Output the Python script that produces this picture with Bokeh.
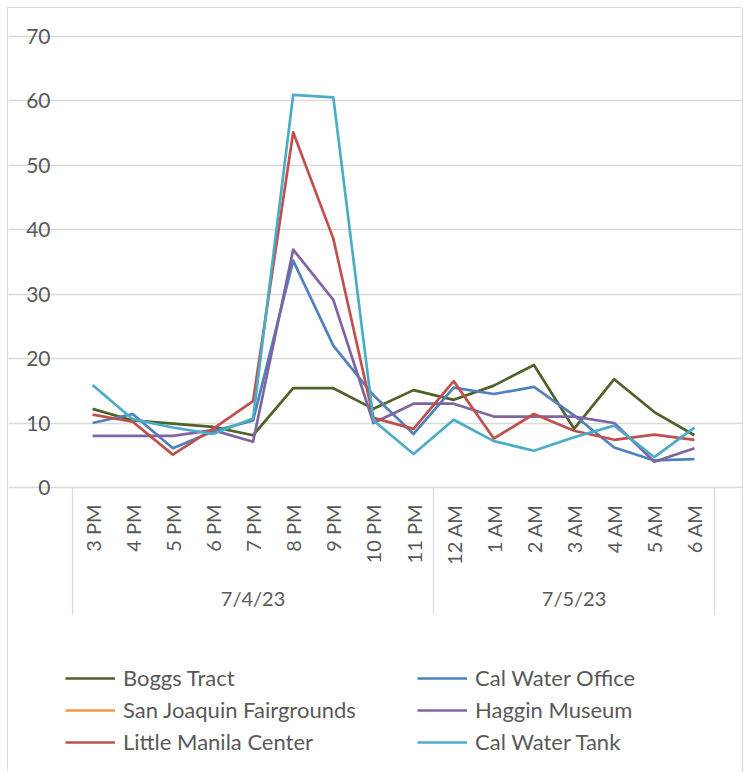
import numpy as np
from bokeh.plotting import figure
from bokeh.models import (Range1d, LinearAxis, FixedTicker, Legend, LegendItem, Grid)
from bokeh.embed import file_html
from bokeh.resources import INLINE

# ---------------- data ----------------
hours = ["3 PM", "4 PM", "5 PM", "6 PM", "7 PM", "8 PM", "9 PM", "10 PM", "11 PM",
         "12 AM", "1 AM", "2 AM", "3 AM", "4 AM", "5 AM", "6 AM"]
dates = ["7/4/23", "7/5/23"]
date_counts = [9, 7]
y_ticks = [0, 10, 20, 30, 40, 50, 60, 70]

boggs_tract = [12.2, 10.4, 9.9, 9.4, 8.1, 15.4, 15.4, 12.2, 15.1, 13.6, 15.8, 19.0, 9.1, 16.8, 11.7, 8.1]
cal_water_office = [10.0, 11.4, 6.1, 8.7, 10.4, 35.2, 22.0, 14.3, 8.3, 15.5, 14.5, 15.6, 11.2, 6.2, 4.2, 4.4]
sj_fairgrounds = [np.nan] * 16
haggin_museum = [8.0, 8.0, 8.0, 8.9, 7.1, 36.9, 29.1, 10.0, 13.0, 13.0, 11.0, 11.0, 11.0, 10.0, 4.0, 6.1]
little_manila = [11.3, 10.2, 5.1, 9.1, 13.4, 55.1, 38.6, 10.8, 9.1, 16.5, 7.6, 11.4, 8.8, 7.4, 8.2, 7.4]
cal_water_tank = [15.9, 10.6, 9.3, 8.3, 10.7, 60.9, 60.5, 10.4, 5.2, 10.5, 7.2, 5.7, 7.8, 9.6, 4.7, 9.3]

series = [
    ("Boggs Tract", boggs_tract, "#4F6228"),
    ("Cal Water Office", cal_water_office, "#4F81BD"),
    ("San Joaquin Fairgrounds", sj_fairgrounds, "#F79646"),
    ("Haggin Museum", haggin_museum, "#8064A2"),
    ("Little Manila Center", little_manila, "#C0504D"),
    ("Cal Water Tank", cal_water_tank, "#4BACC6"),
]

# ---------------- layout (pixels, relative to the figure) ----------------
W, H = 734, 764
left_px = 64          # plot area left edge inside the figure
cat_px = 40.125       # width of one category
zero_px = 479         # y=0 line from the figure top
unit_px = 451.3 / 70  # pixels per unit on y

FONT = "Lato"
TXT = "#595959"
GRID = "#D9D9D9"

x_range = Range1d(-left_px / cat_px, (W - left_px) / cat_px)
y_range = Range1d(-(H - zero_px) / unit_px, zero_px / unit_px)

p = figure(width=W, height=H, x_range=x_range, y_range=y_range,
           x_axis_type=None, y_axis_type=None,
           output_backend="svg", toolbar_location=None,
           min_border=0, min_border_left=0, min_border_right=0,
           min_border_top=0, min_border_bottom=0)
p.outline_line_color = None
p.background_fill_color = "white"
p.border_fill_color = "white"
p.styles = {"margin-left": "8px", "margin-top": "8px",
            "box-shadow": "-1px -1px 0 0 #D9D9D9, 1px 0 0 0 #D9D9D9"}

n = len(hours)
xs = np.arange(n) + 0.5

# horizontal gridlines restricted to the plot area
grid = Grid(dimension=1, ticker=FixedTicker(ticks=y_ticks), grid_line_color=GRID,
            grid_line_width=1.3, bounds=(0, n))
p.add_layout(grid)

# y axis labels
yax = LinearAxis(fixed_location=0, ticker=FixedTicker(ticks=y_ticks),
                 axis_line_color=None, major_tick_line_color=None, minor_tick_line_color=None,
                 major_label_standoff=16, major_label_text_font=FONT,
                 major_label_text_font_size="21px", major_label_text_color=TXT)
p.add_layout(yax, "left")

# hour labels
hour_ax = LinearAxis(fixed_location=0, ticker=FixedTicker(ticks=list(xs)),
                     major_label_overrides={float(x): h for x, h in zip(xs, hours)},
                     major_label_orientation=np.pi / 2,
                     axis_line_color=None, major_tick_line_color=None, minor_tick_line_color=None,
                     major_label_standoff=11, major_label_text_font=FONT,
                     major_label_text_font_size="20px", major_label_text_color=TXT)
p.add_layout(hour_ax, "below")

# group separators
bounds_ticks = [0] + list(np.cumsum(date_counts).astype(float))
sep_ax = LinearAxis(fixed_location=0, ticker=FixedTicker(ticks=bounds_ticks),
                    axis_line_color=None, major_tick_in=0, major_tick_out=127,
                    major_tick_line_color=GRID, major_tick_line_width=1.3,
                    minor_tick_line_color=None, major_label_text_color=None)
p.add_layout(sep_ax, "below")

# date labels
starts = [0] + list(np.cumsum(date_counts)[:-1])
centers = [s + c / 2 for s, c in zip(starts, date_counts)]
date_ax = LinearAxis(fixed_location=0, ticker=FixedTicker(ticks=centers),
                     major_label_overrides={float(c): d for c, d in zip(centers, dates)},
                     axis_line_color=None, major_tick_line_color=None, minor_tick_line_color=None,
                     major_label_standoff=92, major_label_text_font=FONT,
                     major_label_text_font_size="20px", major_label_text_color=TXT)
p.add_layout(date_ax, "below")

renderers = {}
for name, vals, color in series:
    r = p.line(xs, vals, line_color=color, line_width=2.7, line_join="round")
    renderers[name] = r

def make_legend(names, x):
    leg = Legend(items=[LegendItem(label=nm, renderers=[renderers[nm]]) for nm in names],
                 location=(x, 17), orientation="vertical",
                 padding=0, margin=0, spacing=5,
                 glyph_width=50, glyph_height=20, label_height=20, label_standoff=8,
                 label_text_font=FONT, label_text_font_size="22px", label_text_color=TXT,
                 border_line_color=None, background_fill_alpha=0)
    return leg

p.add_layout(make_legend(["Boggs Tract", "San Joaquin Fairgrounds", "Little Manila Center"], 57))
p.add_layout(make_legend(["Cal Water Office", "Haggin Museum", "Cal Water Tank"], 409))

open("out.html", "w").write(file_html(p, INLINE))
